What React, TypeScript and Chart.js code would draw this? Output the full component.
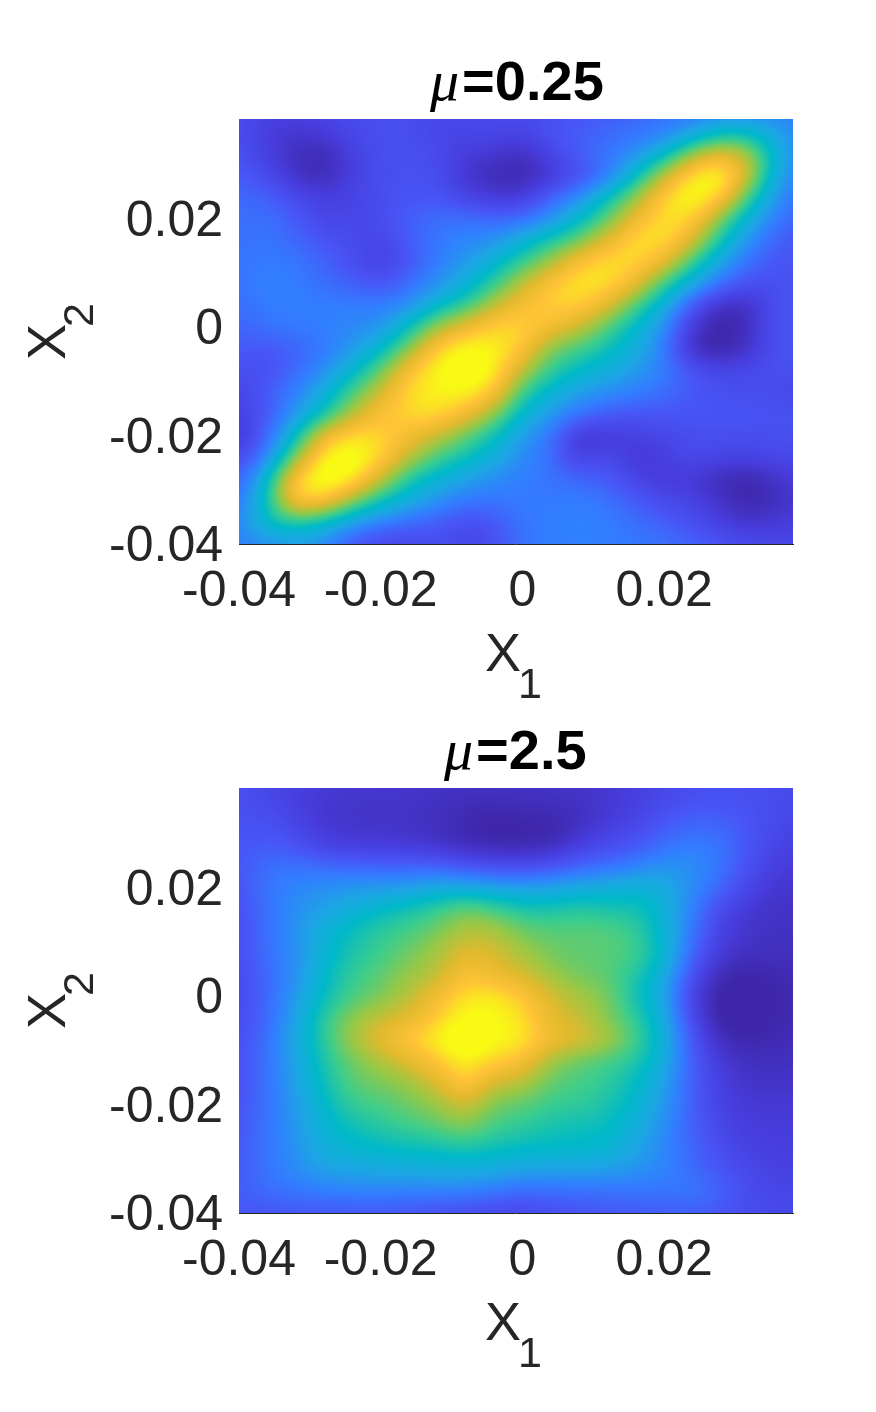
import React, { useEffect, useRef } from "react";
import { Chart, registerables } from "chart.js";

Chart.register(...registerables);

const xNodes = [-0.04, -0.036, -0.032, -0.028, -0.024, -0.02, -0.016, -0.012, -0.008, -0.004, 0, 0.004, 0.008, 0.012, 0.016, 0.02, 0.024, 0.028, 0.032, 0.036, 0.04];
const yNodes = [0.04, 0.036, 0.032, 0.028, 0.024, 0.02, 0.016, 0.012, 0.008, 0.004, 0, -0.004, -0.008, -0.012, -0.016, -0.02, -0.024, -0.028, -0.032, -0.036, -0.04];
const xTicks = [-0.04, -0.02, 0, 0.02];
const yTicks = [-0.04, -0.02, 0, 0.02];
const xTickLabels = ["-0.04", "-0.02", "0", "0.02"];
const yTickLabels = ["-0.04", "-0.02", "0", "0.02"];

const lowMuGrid = [
  [.17,.14,.13,.15,.17,.18,.18,.16,.16,.17,.17,.17,.2,.21,.24,.26,.28,.3,.3,.3,.3],
  [.18,.11,.09,.11,.16,.18,.18,.14,.15,.16,.14,.2,.22,.25,.27,.3,.37,.48,.48,.38,.3],
  [.19,.13,.05,.03,.13,.18,.19,.17,.11,.09,.05,.14,.22,.28,.34,.46,.68,.8,.7,.42,.3],
  [.22,.17,.07,.04,.13,.17,.19,.18,.08,.04,.03,.09,.18,.28,.48,.72,.92,.97,.73,.38,.28],
  [.25,.24,.17,.12,.14,.18,.2,.2,.15,.1,.1,.25,.33,.5,.66,.88,.96,.87,.55,.33,.25],
  [.26,.27,.22,.14,.15,.17,.23,.27,.27,.25,.27,.34,.47,.6,.8,.9,.88,.62,.42,.28,.22],
  [.27,.28,.25,.2,.17,.14,.22,.28,.32,.34,.44,.53,.62,.78,.9,.9,.75,.5,.33,.22,.2],
  [.27,.3,.28,.24,.18,.11,.2,.3,.36,.45,.56,.68,.85,.9,.88,.78,.55,.38,.26,.2,.2],
  [.27,.31,.3,.26,.23,.2,.26,.34,.43,.55,.72,.85,.91,.9,.78,.55,.4,.26,.17,.18,.2],
  [.26,.3,.3,.3,.3,.3,.33,.47,.55,.72,.82,.87,.87,.76,.57,.42,.2,.04,.06,.2,.2],
  [.23,.27,.29,.3,.32,.34,.5,.68,.8,.88,.88,.8,.72,.58,.46,.34,.08,.01,.06,.2,.2],
  [.22,.2,.23,.28,.36,.47,.64,.88,.95,.93,.85,.62,.57,.5,.42,.3,.05,.01,.08,.2,.2],
  [.18,.17,.26,.33,.46,.6,.85,.93,1,.93,.7,.55,.47,.42,.36,.3,.2,.15,.17,.18,.18],
  [.14,.22,.3,.42,.58,.74,.89,.92,.93,.85,.55,.44,.37,.33,.3,.26,.21,.18,.18,.16,.16],
  [.12,.2,.36,.5,.7,.83,.88,.9,.8,.65,.45,.36,.28,.21,.2,.2,.2,.2,.2,.19,.19],
  [.08,.25,.47,.8,.9,.88,.8,.72,.6,.5,.36,.28,.07,.1,.13,.15,.18,.18,.18,.18,.18],
  [.16,.3,.65,.94,.98,.88,.7,.57,.5,.42,.32,.27,.11,.18,.08,.12,.17,.14,.14,.16,.16],
  [.22,.47,.88,.99,.93,.72,.52,.44,.38,.32,.3,.27,.25,.22,.14,.1,.1,.04,.02,.08,.12],
  [.27,.5,.88,.85,.65,.5,.42,.34,.28,.28,.29,.29,.3,.27,.22,.16,.14,.07,.02,.06,.1],
  [.3,.5,.53,.47,.36,.3,.25,.22,.17,.2,.28,.3,.31,.3,.26,.23,.18,.12,.08,.1,.13],
  [.3,.32,.36,.32,.2,.14,.15,.18,.14,.18,.27,.3,.3,.3,.29,.27,.24,.2,.17,.16,.16],
];

const highMuGrid = [
  [.18,.16,.13,.11,.1,.1,.09,.08,.08,.08,.08,.08,.09,.1,.12,.15,.17,.18,.18,.17,.17],
  [.18,.16,.12,.09,.08,.08,.08,.07,.05,.05,.06,.06,.07,.09,.12,.17,.19,.2,.18,.17,.16],
  [.19,.19,.15,.09,.08,.08,.07,.06,.03,.01,.02,.02,.06,.11,.15,.21,.24,.24,.2,.16,.14],
  [.2,.22,.19,.13,.11,.11,.1,.08,.05,.03,.03,.04,.12,.17,.2,.27,.3,.28,.2,.14,.12],
  [.2,.27,.28,.26,.25,.24,.24,.24,.2,.18,.17,.2,.24,.27,.31,.35,.34,.28,.18,.11,.1],
  [.19,.28,.32,.34,.36,.37,.38,.42,.42,.4,.38,.4,.42,.43,.45,.42,.33,.24,.14,.09,.08],
  [.18,.27,.34,.38,.43,.48,.52,.56,.64,.58,.53,.52,.55,.52,.52,.44,.3,.16,.09,.07,.07],
  [.17,.27,.34,.44,.5,.55,.58,.63,.7,.7,.62,.6,.6,.6,.56,.45,.28,.12,.08,.07,.07],
  [.17,.27,.33,.45,.52,.57,.62,.68,.77,.74,.68,.62,.6,.6,.58,.47,.24,.1,.06,.06,.06],
  [.16,.25,.33,.47,.56,.6,.67,.7,.84,.78,.74,.67,.62,.6,.53,.42,.18,.03,.02,.04,.05],
  [.16,.25,.36,.49,.58,.63,.7,.8,.9,.92,.85,.74,.68,.64,.5,.4,.12,0,0,.02,.05],
  [.16,.25,.38,.55,.66,.72,.76,.86,.95,.93,.9,.76,.72,.64,.55,.42,.16,0,0,.03,.05],
  [.18,.27,.4,.55,.68,.78,.86,.93,1,.94,.92,.8,.76,.7,.58,.44,.2,.05,.03,.04,.06],
  [.18,.27,.38,.52,.62,.68,.76,.84,.93,.86,.82,.66,.6,.57,.53,.42,.22,.1,.06,.06,.07],
  [.18,.27,.38,.5,.6,.63,.66,.74,.88,.72,.7,.6,.58,.55,.48,.38,.22,.12,.08,.08,.08],
  [.19,.27,.36,.47,.56,.58,.62,.66,.74,.62,.6,.56,.55,.52,.46,.36,.22,.13,.1,.1,.1],
  [.2,.28,.35,.45,.5,.54,.57,.6,.65,.57,.55,.51,.5,.49,.42,.33,.23,.15,.11,.11,.11],
  [.2,.28,.34,.43,.46,.48,.49,.5,.52,.5,.48,.48,.47,.46,.39,.32,.24,.17,.13,.12,.12],
  [.21,.28,.33,.38,.39,.4,.41,.42,.42,.41,.38,.38,.38,.37,.35,.31,.26,.2,.15,.13,.13],
  [.22,.26,.28,.3,.31,.31,.3,.3,.3,.28,.25,.26,.26,.27,.27,.28,.29,.24,.17,.15,.15],
  [.2,.2,.2,.2,.2,.2,.2,.18,.17,.15,.15,.17,.19,.2,.21,.22,.22,.2,.17,.16,.16],
];

const colorStops: number[][] = [
  [62, 38, 168], [71, 60, 220], [72, 85, 245], [50, 125, 255], [28, 165, 228], [0, 185, 200],
  [60, 205, 140], [150, 200, 70], [225, 185, 45], [255, 195, 55], [248, 250, 20],
];

function colorOf(v: number): number[] {
  const t = Math.max(0, Math.min(0.9999, v)) * (colorStops.length - 1);
  const i = Math.floor(t);
  const f = t - i;
  return colorStops[i].map((c, k) => c + (colorStops[i + 1][k] - c) * f);
}

function bspline(a: number, b: number, c: number, d: number, t: number) {
  const u = 1 - t;
  return (u * u * u * a + (3 * t * t * t - 6 * t * t + 4) * b + (-3 * t * t * t + 3 * t * t + 3 * t + 1) * c + t * t * t * d) / 6;
}

function sample(grid: number[][], fx: number, fy: number) {
  const n = grid[0].length, m = grid.length;
  const ix = Math.floor(fx), iy = Math.floor(fy);
  const tx = fx - ix, ty = fy - iy;
  const rows: number[] = [];
  for (let r = -1; r <= 2; r++) {
    const row = grid[Math.max(0, Math.min(m - 1, iy + r))];
    const at = (k: number) => row[Math.max(0, Math.min(n - 1, ix + k))];
    rows.push(bspline(at(-1), at(0), at(1), at(2), tx));
  }
  const v = bspline(rows[0], rows[1], rows[2], rows[3], ty);
  return v + (v - 0.25) * 0.1;
}

const heatmapPlugin = {
  id: "heatmap",
  beforeDatasetsDraw(chart: any) {
    const { ctx, chartArea: a, scales } = chart;
    const grid = chart.options.plugins.heatmap.grid as number[][];
    const w = Math.round(a.right - a.left), h = Math.round(a.bottom - a.top);
    const off = document.createElement("canvas");
    off.width = w; off.height = h;
    const oc = off.getContext("2d")!;
    const img = oc.createImageData(w, h);
    const dx = xNodes[1] - xNodes[0], dy = yNodes[1] - yNodes[0];
    for (let py = 0; py < h; py++) {
      const fy = (scales.y.getValueForPixel(a.top + py + 0.5) - yNodes[0]) / dy;
      for (let px = 0; px < w; px++) {
        const fx = (scales.x.getValueForPixel(a.left + px + 0.5) - xNodes[0]) / dx;
        const c = colorOf(sample(grid, fx, fy));
        const o = (py * w + px) * 4;
        img.data[o] = c[0]; img.data[o + 1] = c[1]; img.data[o + 2] = c[2]; img.data[o + 3] = 255;
      }
    }
    oc.putImageData(img, 0, 0);
    ctx.drawImage(off, a.left, a.top);
  },
};

const labelPlugin = {
  id: "labels",
  afterDraw(chart: any) {
    const { ctx } = chart;
    const o = chart.options.plugins.labels;
    ctx.save();
    ctx.textBaseline = "alphabetic";
    ctx.textAlign = "left";
    ctx.fillStyle = "#000";
    ctx.font = "italic 58px 'Liberation Serif'";
    ctx.fillText("\u03bc", o.titleX, 100);
    const muW = ctx.measureText("\u03bc").width;
    ctx.font = "bold 56px 'Liberation Sans'";
    ctx.fillText(o.title, o.titleX + muW + 3, 100);
    ctx.fillStyle = "#262626";
    ctx.font = "54px 'Liberation Sans'";
    ctx.fillText("X", 485, 671);
    ctx.font = "43px 'Liberation Sans'";
    ctx.fillText("1", 518, 698);
    ctx.save();
    ctx.translate(65, 360);
    ctx.rotate(-Math.PI / 2);
    ctx.font = "54px 'Liberation Sans'";
    ctx.fillText("X", 0, 0);
    ctx.font = "43px 'Liberation Sans'";
    ctx.fillText("2", 33, 28);
    ctx.restore();
    ctx.restore();
  },
};

function HeatPanel({ grid, title, titleX, top }: { grid: number[][]; title: string; titleX: number; top: number }) {
  const ref = useRef<HTMLCanvasElement>(null);
  useEffect(() => {
    const points: any[] = [];
    grid.forEach((row, j) => row.forEach((v, i) => points.push({ x: xNodes[i], y: yNodes[j], v })));
    const tickFont = { family: "'Liberation Sans'", size: 50 };
    const fixSize = (prop: string, size: number) => (s: any) => {
      s[prop] = size;
      s.paddingLeft = s.paddingRight = s.paddingTop = s.paddingBottom = 0;
    };
    const chart = new Chart(ref.current!, {
      type: "scatter",
      data: { datasets: [{ data: points, pointRadius: 0, pointHoverRadius: 0, showLine: false }] },
      plugins: [heatmapPlugin, labelPlugin],
      options: {
        animation: false,
        responsive: false,
        events: [],
        layout: { autoPadding: false, padding: { left: 0, right: 83, top: 119, bottom: 74 } },
        plugins: {
          legend: { display: false },
          tooltip: { enabled: false },
          heatmap: { grid },
          labels: { title, titleX },
        } as any,
        scales: {
          x: {
            type: "linear",
            min: -0.04,
            max: 0.0382,
            grid: { display: false, drawTicks: false },
            border: { display: true, color: "#262626", width: 1, z: 1 },
            afterBuildTicks: (s: any) => { s.ticks = xTicks.map((value) => ({ value })); },
            afterFit: fixSize("height", 125),
            ticks: {
              autoSkip: false, maxRotation: 0, padding: 18, color: "#262626", font: tickFont,
              callback: (v: any) => xTickLabels[xTicks.indexOf(v)],
            },
          },
          y: {
            type: "linear",
            min: -0.04,
            max: 0.0386,
            grid: { display: false, drawTicks: false },
            border: { display: false },
            afterBuildTicks: (s: any) => { s.ticks = yTicks.map((value) => ({ value })); },
            afterFit: fixSize("width", 239),
            ticks: {
              autoSkip: false, padding: 16, labelOffset: 3, color: "#262626", font: tickFont,
              callback: (v: any) => yTickLabels[yTicks.indexOf(v)],
            },
          },
        },
      },
    } as any);
    return () => chart.destroy();
  }, []);
  return <canvas ref={ref} width={876} height={743} style={{ position: "absolute", left: 0, top, display: "block" }} />;
}

export default function App() {
  return (
    <div style={{ position: "absolute", left: 0, top: 0, width: 876, height: 1412, background: "#fff" }}>
      <HeatPanel grid={lowMuGrid} title="=0.25" titleX={430} top={0} />
      <HeatPanel grid={highMuGrid} title="=2.5" titleX={444} top={669} />
    </div>
  );
}
